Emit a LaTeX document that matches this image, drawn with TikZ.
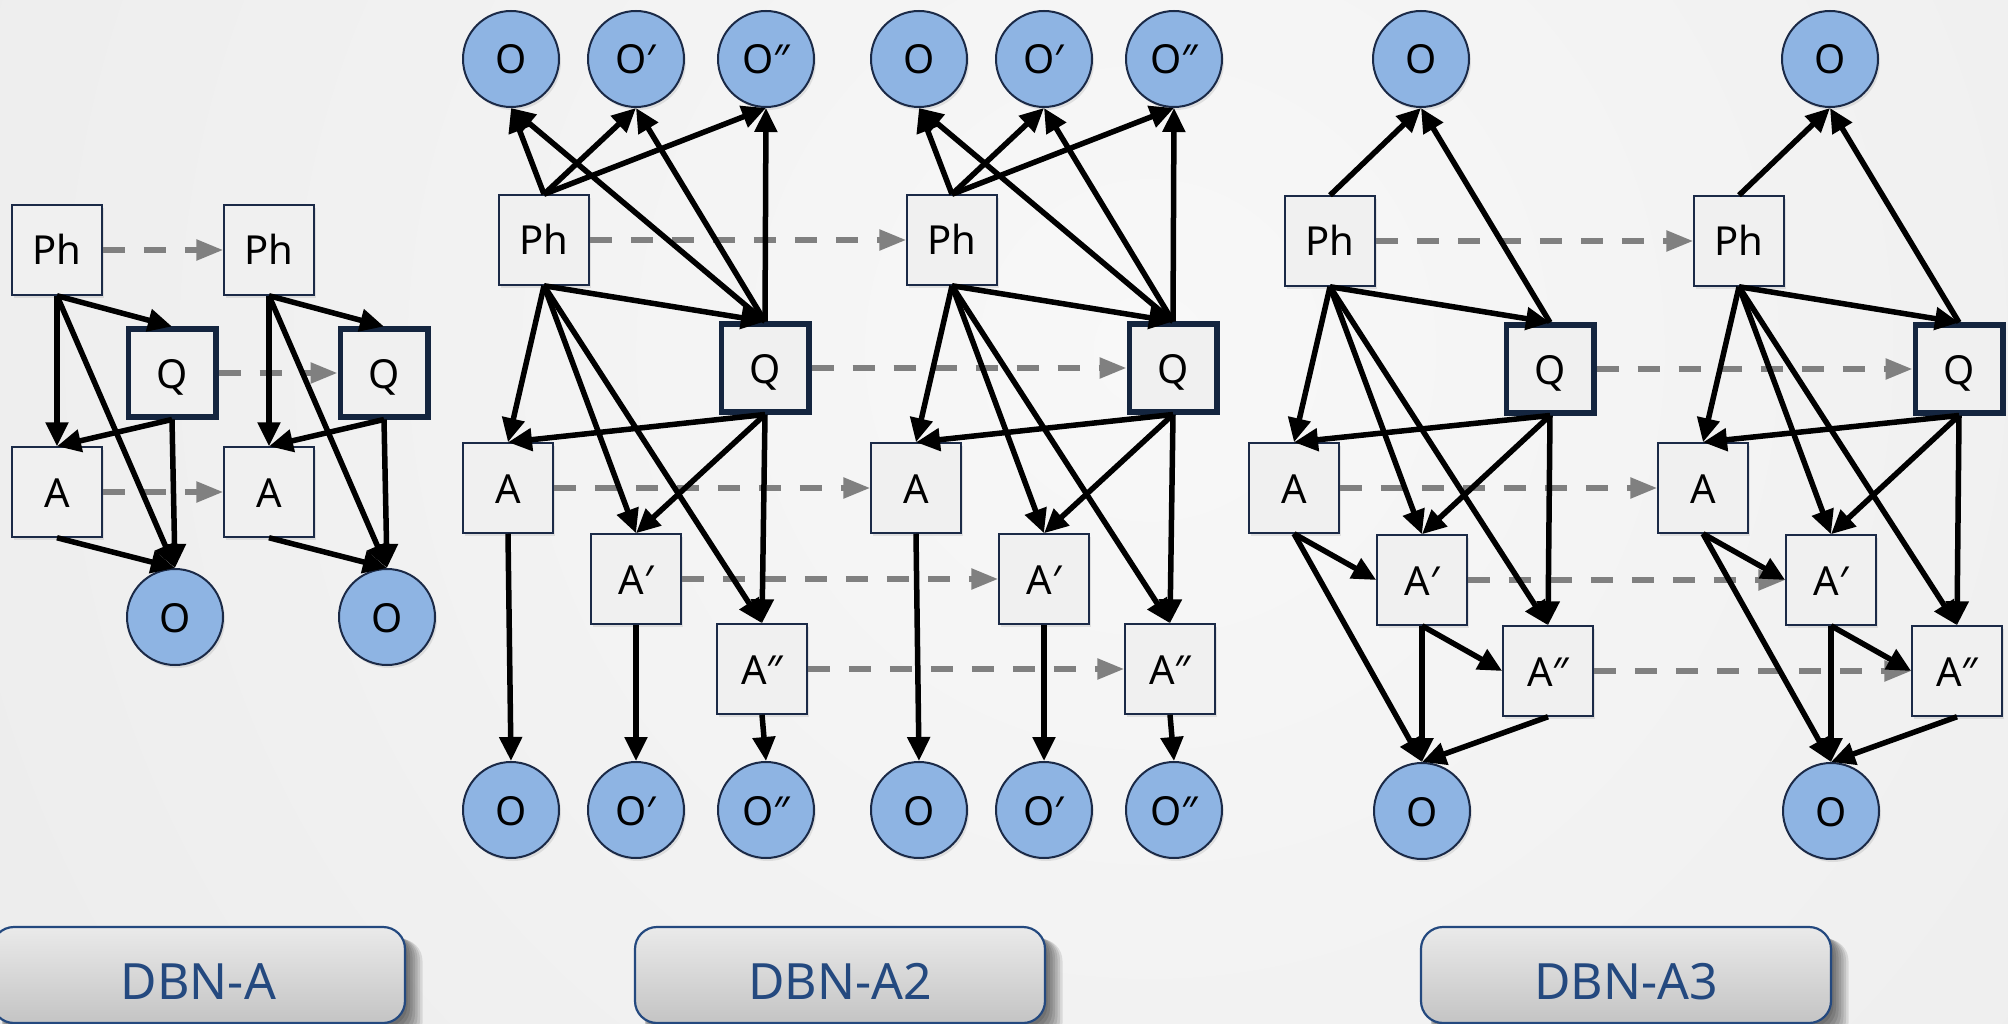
\documentclass[tikz,border=0pt]{standalone}
\usepackage{fontspec}
\setmainfont{Noto Sans}
\usetikzlibrary{arrows.meta,shadows}
\definecolor{navy}{HTML}{1B2A47}
\definecolor{qnavy}{HTML}{14253F}
\definecolor{obsblue}{HTML}{8EB4E3}
\definecolor{boxfill}{HTML}{F0F0F0}
\definecolor{dashgray}{HTML}{808080}
\definecolor{labblue}{HTML}{24497F}
\definecolor{bgin}{HTML}{F8F8F8}
\definecolor{bgout}{HTML}{E3E3E3}
\definecolor{labtop}{HTML}{EAEAEA}
\definecolor{labbot}{HTML}{C4C4C4}
\begin{document}
\begin{tikzpicture}[x=1pt,y=-1pt,
  var/.style={draw=navy, line width=2pt, fill=boxfill, minimum size=89.5pt, inner sep=0pt,
    font=\fontsize{40}{48}\selectfont, text height=30pt, text depth=0pt,
    drop shadow={shadow xshift=2pt, shadow yshift=-3pt, opacity=0.18}},
  qvar/.style={var, draw=qnavy, line width=5.5pt, minimum size=87.5pt},
  obs/.style={circle, draw=navy, line width=2pt, fill=obsblue, minimum size=96pt, inner sep=0pt,
    font=\fontsize{40}{48}\selectfont, text height=30pt, text depth=0pt,
    drop shadow={shadow xshift=2pt, shadow yshift=-3pt, opacity=0.18}},
  dep/.style={draw=black, line width=5.5pt, -{Triangle[length=24pt,width=22pt]}},
  temp/.style={draw=dashgray, line width=5.5pt, dash pattern=on 22pt off 19pt,
    -{Triangle[length=27pt,width=20pt]}},
  labelbox/.style={rounded corners=22pt, draw=labblue, line width=2.2pt, top color=labtop,
    bottom color=labbot, text=labblue, font=\fontsize{50}{60}\selectfont,
    minimum height=96pt, text height=48pt, text depth=0pt, inner sep=0pt}
]
\useasboundingbox (0,0) rectangle (2008,1024);
\begin{scope}
  \clip (0,0) rectangle (2008,1024);
  \shade[inner color=bgin, outer color=bgout] (1150,350) circle (2400);
\end{scope}

% ---------- DBN-A ----------
\foreach \p/\dx in {a/0,b/212}{
  \begin{scope}[xshift=\dx pt]
    \node[var]  (\p-Ph) at (57,250)  {Ph};
    \node[qvar] (\p-Q)  at (172,373) {Q};
    \node[var]  (\p-A)  at (57,492)  {A};
    \node[obs]  (\p-O)  at (175,617) {O};
  \end{scope}
}
% ---------- DBN-A2 ----------
\foreach \p/\dx in {c/0,d/408}{
  \begin{scope}[xshift=\dx pt]
    \node[obs]  (\p-Ot)   at (511,59)  {O};
    \node[obs]  (\p-Opt)  at (636,59)  {O′};
    \node[obs]  (\p-Oppt) at (766,59)  {O″};
    \node[var]  (\p-Ph)   at (544,240) {Ph};
    \node[qvar] (\p-Q)    at (765,368) {Q};
    \node[var]  (\p-A)    at (508,488) {A};
    \node[var]  (\p-Ap)   at (636,579) {A′};
    \node[var]  (\p-App)  at (762,669) {A″};
    \node[obs]  (\p-Ob)   at (511,810) {O};
    \node[obs]  (\p-Opb)  at (636,810) {O′};
    \node[obs]  (\p-Oppb) at (766,810) {O″};
  \end{scope}
}
% ---------- DBN-A3 ----------
\foreach \p/\dx in {e/0,f/409}{
  \begin{scope}[xshift=\dx pt]
    \node[obs]  (\p-Ot)  at (1421,59)  {O};
    \node[var]  (\p-Ph)  at (1330,241) {Ph};
    \node[qvar] (\p-Q)   at (1550,369) {Q};
    \node[var]  (\p-A)   at (1294,488) {A};
    \node[var]  (\p-Ap)  at (1422,580) {A′};
    \node[var]  (\p-App) at (1548,671) {A″};
    \node[obs]  (\p-Ob)  at (1422,811) {O};
  \end{scope}
}

% temporal (dashed) arrows
\foreach \n in {Ph,Q,A}{ \draw[temp] (a-\n.east) -- (b-\n.west); }
\foreach \n in {Ph,Q,A,Ap,App}{
  \draw[temp] (c-\n.east) -- (d-\n.west);
  \draw[temp] (e-\n.east) -- (f-\n.west);
}

% DBN-A dependencies
\foreach \p in {a,b}{
  \draw[dep] (\p-Ph.south) -- (\p-Q.north);
  \draw[dep] (\p-Ph.south) -- (\p-A.north);
  \draw[dep] (\p-Ph.south) -- (\p-O.north);
  \draw[dep] (\p-Q.south) -- (\p-A.north);
  \draw[dep] (\p-Q.south) -- (\p-O.north);
  \draw[dep] (\p-A.south) -- (\p-O.north);
}
% DBN-A2 dependencies
\foreach \p in {c,d}{
  \foreach \o in {Ot,Opt,Oppt}{
    \draw[dep] (\p-Ph.north) -- (\p-\o.south);
    \draw[dep] (\p-Q.north) -- (\p-\o.south);
  }
  \draw[dep] (\p-Ph.south) -- (\p-Q.north);
  \foreach \a in {A,Ap,App}{
    \draw[dep] (\p-Ph.south) -- (\p-\a.north);
    \draw[dep] (\p-Q.south) -- (\p-\a.north);
  }
  \draw[dep] (\p-A.south) -- (\p-Ob.north);
  \draw[dep] (\p-Ap.south) -- (\p-Opb.north);
  \draw[dep] (\p-App.south) -- (\p-Oppb.north);
}
% DBN-A3 dependencies
\foreach \p in {e,f}{
  \draw[dep] (\p-Ph.north) -- (\p-Ot.south);
  \draw[dep] (\p-Q.north) -- (\p-Ot.south);
  \draw[dep] (\p-Ph.south) -- (\p-Q.north);
  \foreach \a in {A,Ap,App}{
    \draw[dep] (\p-Ph.south) -- (\p-\a.north);
    \draw[dep] (\p-Q.south) -- (\p-\a.north);
  }
  \draw[dep] (\p-A.south) -- (\p-Ap.west);
  \draw[dep] (\p-A.south) -- (\p-Ob.north);
  \draw[dep] (\p-Ap.south) -- (\p-App.west);
  \draw[dep] (\p-Ap.south) -- (\p-Ob.north);
  \draw[dep] (\p-App.south) -- (\p-Ob.north);
}

% model labels with soft shadows
\foreach \xa/\xb in {-8/405,635/1045,1421/1831}{
  \foreach \i in {1,...,7}{
    \fill[black, opacity=0.1, rounded corners=22pt]
      (\xa+10, 932+\i) rectangle (\xb+2.5*\i, 1024+3*\i);
  }
}
\node[labelbox, minimum width=413pt] (labA)  at (198.5,975) {DBN-A};
\node[labelbox, minimum width=410pt] (labA2) at (840,975)   {DBN-A2};
\node[labelbox, minimum width=410pt] (labA3) at (1626,975)  {DBN-A3};
\end{tikzpicture}
\end{document}
